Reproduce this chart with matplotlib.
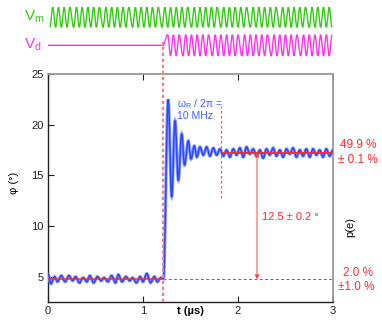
"""Ramsey-type readout trace: phase phi(t) with drive signals Vm / Vd above."""
import numpy as np
import matplotlib; matplotlib.use("Agg")
import matplotlib.pyplot as plt
from matplotlib.path import Path
from matplotlib.patches import PathPatch

plt.rcParams["font.family"] = ["Liberation Sans", "DejaVu Sans"]

phi_t = [0.00, 0.03, 0.07, 0.10, 0.14, 0.18, 0.22, 0.26, 0.29, 0.33, 0.37, 0.41,
         0.44, 0.48, 0.52, 0.56, 0.59, 0.63, 0.67, 0.71, 0.74, 0.78, 0.82, 0.86,
         0.89, 0.93, 0.97, 1.00, 1.04, 1.08, 1.12, 1.15, 1.19, 1.215,
         1.265, 1.302, 1.337, 1.372, 1.407, 1.437, 1.477, 1.505, 1.540, 1.567,
         1.600, 1.635, 1.670, 1.705, 1.740, 1.775, 1.810,
         1.845, 1.880, 1.915, 1.950, 1.985, 2.020, 2.055, 2.090, 2.125, 2.160,
         2.195, 2.230, 2.265, 2.300, 2.335, 2.370, 2.405, 2.440, 2.475, 2.510,
         2.545, 2.580, 2.615, 2.650, 2.685, 2.720, 2.755, 2.790, 2.825, 2.860,
         2.895, 2.930, 2.965, 3.000]
phi_v = [5.3, 4.3, 5.0, 4.5, 5.1, 4.5, 5.1, 4.6, 5.0, 4.4, 4.9, 4.5,
         5.1, 4.4, 5.0, 4.6, 4.9, 4.5, 5.1, 4.4, 5.2, 4.5, 5.0, 4.6,
         4.9, 4.4, 5.0, 4.5, 5.3, 4.4, 5.0, 4.5, 4.9, 4.8,
         22.5, 12.9, 20.4, 14.5, 19.1, 16.0, 18.4, 16.6, 17.9, 16.8,
         17.8, 17.0, 17.8, 16.9, 17.7, 17.0, 17.6,
         16.9, 17.5, 16.8, 17.6, 17.0, 17.7, 16.8, 17.8, 17.1, 17.6,
         16.9, 17.5, 16.7, 17.6, 17.0, 17.7, 16.9, 17.5, 16.8, 17.6,
         17.1, 17.7, 16.8, 17.5, 16.9, 17.6, 16.8, 17.6, 17.0, 17.5,
         16.8, 17.6, 16.9, 17.5]

phi_low, phi_high = 4.75, 17.25     # fitted mean levels
t_step, t_settle, t_arrow = 1.21, 1.82, 2.2

# drive signals: turning-point times (us)
vm_peaks = [0.05, 0.11, 0.17, 0.23, 0.30, 0.36, 0.42, 0.48, 0.54, 0.61, 0.67, 0.73,
            0.79, 0.85, 0.92, 0.98, 1.04, 1.10, 1.16, 1.23, 1.29, 1.35, 1.41, 1.47,
            1.54, 1.60, 1.66, 1.72, 1.78, 1.85, 1.91, 1.97, 2.03, 2.09, 2.16, 2.22,
            2.28, 2.34, 2.40, 2.47, 2.53, 2.59, 2.65, 2.71, 2.78, 2.84, 2.90, 2.96]
vm_troughs = [0.02, 0.08, 0.14, 0.20, 0.27, 0.33, 0.39, 0.45, 0.51, 0.58, 0.64, 0.70,
              0.76, 0.82, 0.89, 0.95, 1.01, 1.07, 1.13, 1.20, 1.26, 1.32, 1.38, 1.44,
              1.51, 1.57, 1.63, 1.69, 1.75, 1.82, 1.88, 1.94, 2.00, 2.06, 2.13, 2.19,
              2.25, 2.31, 2.37, 2.44, 2.50, 2.56, 2.62, 2.68, 2.75, 2.81, 2.87, 2.93, 2.99]
vd_flat = [0.0, 1.21]
vd_peaks = [1.26, 1.32, 1.38, 1.45, 1.51, 1.57, 1.63, 1.69, 1.76, 1.82, 1.88, 1.94,
            2.00, 2.07, 2.13, 2.19, 2.25, 2.31, 2.38, 2.44, 2.50, 2.56, 2.62, 2.69,
            2.75, 2.81, 2.87, 2.93, 2.99]
vd_troughs = [1.29, 1.35, 1.42, 1.48, 1.54, 1.60, 1.66, 1.73, 1.79, 1.85, 1.91, 1.97,
              2.04, 2.10, 2.16, 2.22, 2.28, 2.35, 2.41, 2.47, 2.53, 2.59, 2.66, 2.72,
              2.78, 2.84, 2.90, 2.96]

RED = "#ff2a2a"
BLUE = "#2b47ff"


def smooth_path(ts, ys, k=0.36):
    # cubic segments with flat tangents at every turning point
    verts = [(ts[0], ys[0])]
    codes = [Path.MOVETO]
    for i in range(1, len(ts)):
        dt = ts[i] - ts[i - 1]
        verts += [(ts[i - 1] + k * dt, ys[i - 1]), (ts[i] - k * dt, ys[i]), (ts[i], ys[i])]
        codes += [Path.CURVE4] * 3
    return Path(verts, codes)


def levels(peaks, troughs, flat=()):
    t = np.concatenate([flat, peaks, troughs])
    v = np.concatenate([np.zeros(len(flat)), np.ones(len(peaks)), -np.ones(len(troughs))])
    o = np.argsort(t, kind="stable")
    return t[o], v[o]


fig = plt.figure(figsize=(3.82, 3.26), dpi=100)
W, H = 382, 326
ax = fig.add_axes([48 / W, 1 - 302 / H, 285 / W, 228 / H])
top = fig.add_axes([48 / W, 1 - 62 / H, 285 / W, 62 / H])

# --- drive signals ---
top.set_xlim(0, 3); top.set_ylim(62, 0); top.axis("off")
t, v = levels(vm_peaks, vm_troughs)
top.add_patch(PathPatch(smooth_path(t, 17.3 - 10 * v), fill=False, ec="#33cc11", lw=1.0))
t, v = levels(vd_peaks, vd_troughs, vd_flat)
top.add_patch(PathPatch(smooth_path(t, 45.3 - 10.5 * v), fill=False, ec="#ff33ee", lw=1.0))
fig.text(24 / W, 1 - 17 / H, r"V$_\mathregular{m}$", color="#33cc11", fontsize=11, va="center")
fig.text(24 / W, 1 - 45 / H, r"V$_\mathregular{d}$", color="#ff33ee", fontsize=11, va="center")

# --- phase trace ---
ax.add_patch(PathPatch(smooth_path(phi_t, phi_v), fill=False, ec="#8aa0ff", lw=2.3, zorder=3))
ax.add_patch(PathPatch(smooth_path(phi_t, phi_v), fill=False, ec=BLUE, lw=1.1, zorder=4))

ax.hlines(phi_low, 0, t_step, color=RED, lw=1.1, zorder=5)
ax.hlines(phi_low, t_step, 3, color=RED, lw=0.7, linestyles=(0, (3, 2.5)), zorder=2)
ax.hlines(phi_high, t_settle, 3, color=RED, lw=1.4, zorder=5)
ax.axvline(t_step, 0, 1.14, color="#ff7f7f", lw=1.6, ls=(0, (1.5, 1.2)), clip_on=False, zorder=6)
ax.vlines(t_settle, 12.75, 21.8, color="#ff5050", lw=0.9, linestyles=(0, (2, 2)), zorder=2)
ax.annotate("", xy=(t_arrow, phi_low), xytext=(t_arrow, phi_high),
            arrowprops=dict(arrowstyle="<|-|>", color="#ff4040", lw=0.7,
                            mutation_scale=6, shrinkA=0, shrinkB=0), zorder=5)

ax.text(1.355, 22.75, "ω$_\\mathregular{R}$ / 2π =\n10 MHz", color="#3f5fff",
        fontsize=7.5, ha="left", va="top", linespacing=1.0)
ax.text(2.25, 10.9, "12.5 ± 0.2 °", color=RED, fontsize=8, ha="left", va="center")

ax.set_xlim(0, 3); ax.set_ylim(2.5, 25)
ax.set_xticks([0, 1, 2, 3]); ax.set_yticks([5, 10, 15, 20, 25])
ax.tick_params(direction="in", length=4, width=0.8, pad=3, labelsize=8,
               colors="#222222", top=True)
for s in ("left", "bottom"):
    ax.spines[s].set_color("#222222"); ax.spines[s].set_linewidth(1.0)
for s in ("top", "right"):
    ax.spines[s].set_color("#999999"); ax.spines[s].set_linewidth(1.3)

ax.set_xlabel("t (µs)", fontsize=8, fontweight="bold")
ax.xaxis.set_label_coords(0.5, -0.018)
fig.text(14 / W, 1 - 183 / H, "φ (°)", rotation=90, fontsize=8, ha="center", va="center")
fig.text(350 / W, 1 - 227 / H, "p(e)", rotation=90, fontsize=8, ha="center", va="center")

fig.text(358 / W, 1 - 145 / H, "49.9 %", color=RED, fontsize=8.5, ha="center", va="center")
fig.text(358 / W, 1 - 160 / H, "± 0.1 %", color=RED, fontsize=8.5, ha="center", va="center")
fig.text(358 / W, 1 - 273 / H, "2.0 %", color=RED, fontsize=8.5, ha="center", va="center")
fig.text(356 / W, 1 - 287 / H, "±1.0 %", color=RED, fontsize=8.5, ha="center", va="center")

fig.savefig("out.png", dpi=100)
plt.close(fig)
